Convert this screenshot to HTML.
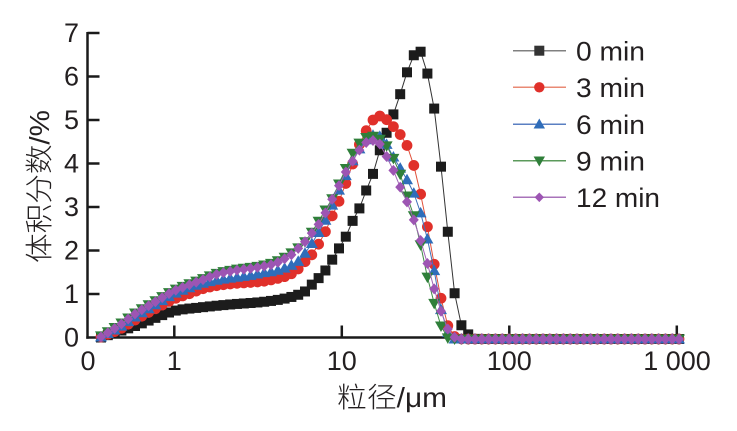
<!DOCTYPE html>
<html><head><meta charset="utf-8"><style>
html,body{margin:0;padding:0;background:#fff;}
svg{display:block;}
text{font-family:"Liberation Sans","Noto Sans CJK SC",sans-serif;fill:#231f20;}
</style></head><body>
<svg id="s" width="737" height="431" viewBox="0 0 737 431" xmlns="http://www.w3.org/2000/svg">
<rect width="737" height="431" fill="#fff"/>
<!-- axes -->
<g stroke="#1a1a1a" stroke-width="2.5" fill="none">
<line x1="87.5" y1="32" x2="87.5" y2="338.7"/>
<line x1="86.3" y1="337.5" x2="682" y2="337.5"/>
<line x1="87.5" y1="33" x2="99.5" y2="33"/>
<line x1="87.5" y1="76.5" x2="99.5" y2="76.5"/>
<line x1="87.5" y1="120" x2="99.5" y2="120"/>
<line x1="87.5" y1="163.5" x2="99.5" y2="163.5"/>
<line x1="87.5" y1="207" x2="99.5" y2="207"/>
<line x1="87.5" y1="250.5" x2="99.5" y2="250.5"/>
<line x1="87.5" y1="294" x2="99.5" y2="294"/>
<line x1="174.3" y1="337.5" x2="174.3" y2="325.5"/>
<line x1="341.8" y1="337.5" x2="341.8" y2="325.5"/>
<line x1="509.3" y1="337.5" x2="509.3" y2="325.5"/>
<line x1="676.8" y1="337.5" x2="676.8" y2="325.5"/>
</g>
<g id="plot"></g>
<g font-size="27" text-anchor="end">
<text x="79" y="42">7</text>
<text x="79" y="85.5">6</text>
<text x="79" y="129">5</text>
<text x="79" y="172.5">4</text>
<text x="79" y="216">3</text>
<text x="79" y="259.5">2</text>
<text x="79" y="303">1</text>
<text x="79" y="346.5">0</text>
</g>
<g font-size="27" text-anchor="middle">
<text x="88" y="370">0</text>
<text x="174.3" y="370">1</text>
<text x="341.8" y="370">10</text>
<text x="509.3" y="370">100</text>
<text x="677" y="370">1 000</text>
</g>
<text x="337" y="407" font-size="28" textLength="110" lengthAdjust="spacingAndGlyphs" style="font-weight:300">粒径/μm</text>
<text transform="translate(49,186.5) rotate(-90)" font-size="28" text-anchor="middle" textLength="153" lengthAdjust="spacingAndGlyphs" style="font-weight:300">体积分数/%</text>
<!-- legend -->
<g stroke-width="1.5">
<line x1="513" y1="50.7" x2="566" y2="50.7" stroke="#808080"/>
<line x1="513" y1="87.3" x2="566" y2="87.3" stroke="#e98a74"/>
<line x1="513" y1="124.3" x2="566" y2="124.3" stroke="#5a7fc2"/>
<line x1="513" y1="160.7" x2="566" y2="160.7" stroke="#5b9a5b"/>
<line x1="513" y1="197.3" x2="566" y2="197.3" stroke="#a873ba"/>
</g>
<rect x="534.3" y="45.7" width="10" height="10" fill="#333"/>
<circle cx="539.3" cy="87.3" r="5.2" fill="#e0302a"/>
<polygon points="539.3,118.5 545,128.5 533.6,128.5" fill="#2f6dba"/>
<polygon points="539.3,166.5 545,156.5 533.6,156.5" fill="#2f7f3a"/>
<polygon points="539.3,192.5 544,197.3 539.3,202.1 534.6,197.3" fill="#9d55b3"/>
<g font-size="27">
<text x="576" y="60.5" textLength="69" lengthAdjust="spacingAndGlyphs">0 min</text>
<text x="576" y="97" textLength="69" lengthAdjust="spacingAndGlyphs">3 min</text>
<text x="576" y="134" textLength="69" lengthAdjust="spacingAndGlyphs">6 min</text>
<text x="576" y="170.5" textLength="69" lengthAdjust="spacingAndGlyphs">9 min</text>
<text x="576" y="207" textLength="84" lengthAdjust="spacingAndGlyphs">12 min</text>
</g>
</svg>
<script>
(function(){
function mono(pts){
 var n=pts.length,xs=[],ys=[],d=[],m=[],i;
 for(i=0;i<n;i++){xs.push(pts[i][0]);ys.push(pts[i][1]);}
 for(i=0;i<n-1;i++)d.push((ys[i+1]-ys[i])/(xs[i+1]-xs[i]));
 m[0]=d[0];m[n-1]=d[n-2];
 for(i=1;i<n-1;i++){m[i]=(d[i-1]*d[i]<=0)?0:(d[i-1]+d[i])/2;}
 for(i=0;i<n-1;i++){
  if(d[i]===0){m[i]=0;m[i+1]=0;continue;}
  var a=m[i]/d[i],b=m[i+1]/d[i],s=a*a+b*b;
  if(s>9){var t=3/Math.sqrt(s);m[i]=t*a*d[i];m[i+1]=t*b*d[i];}
 }
 return function(x){
  if(x<=xs[0])return ys[0]; if(x>=xs[n-1])return ys[n-1];
  var k=0; while(x>xs[k+1])k++;
  var h=xs[k+1]-xs[k],t=(x-xs[k])/h,t2=t*t,t3=t2*t;
  return (2*t3-3*t2+1)*ys[k]+(t3-2*t2+t)*h*m[k]+(-2*t3+3*t2)*ys[k+1]+(t3-t2)*h*m[k+1];
 };
}
var Z=339;
var series=[
 {c:"#1c1c1c",l:"#333",sh:"sq",p:[[101,337.5],[120,331],[135,326],[155,318],[174,311],[200,307.5],[230,304.5],[262,302],[280,299.5],[293,296.5],[300,294],[307,290],[313,283.3],[320,276.7],[327,268.3],[333,258.3],[340,246.7],[347,234.3],[353,220],[361,205],[367,188.3],[374,171],[379,152.7],[387,131.7],[394,112.7],[401,91.7],[407,72.3],[414,55],[422,51.7],[427,71.7],[435,114],[442,176],[449,243],[455,296],[462,327],[469,335],[476,Z],[682,Z]]},
 {c:"#e0302a",l:"#e0503a",sh:"ci",p:[[100,337.5],[120,329],[135,320],[155,309],[174,299],[190,293.5],[202,289],[218,285.5],[235,283.5],[250,282.5],[262,281.5],[275,279],[285,276.5],[290,274.5],[297,270],[305,261.7],[313,253.3],[320,241.7],[327,228.3],[333,214],[341,196.7],[347,180],[354,160],[360,143],[367,129.3],[373,120],[380,116],[387,120],[394,127.3],[401.7,136.7],[409,150],[415,170],[421.7,199.3],[429,235],[436,274],[443,307],[449,329],[456,337.5],[463,Z],[682,Z]]},
 {c:"#2f6dba",l:"#3f70b8",sh:"up",p:[[100,337.5],[120,327],[135,317],[155,305],[174,294],[190,287.5],[202,283.5],[218,280],[235,277.5],[250,275.5],[262,273],[275,271],[285,268],[293,264.5],[298,261.5],[305,253.3],[313,241.7],[320,230],[327,217],[333,203.3],[340,188],[347,173],[353,160],[360,148],[367,139],[375,135],[382,138],[388,146.7],[395,160],[402,171],[408,181.7],[415,196],[421.7,216.7],[429,246],[436,280],[441.7,313],[448,333],[455,Z],[682,Z]]},
 {c:"#2f7f3a",l:"#3f8a45",sh:"dn",p:[[100,336.5],[120,324],[135,313],[155,301],[174,290],[190,283.5],[202,279],[218,273],[235,269.5],[250,267.5],[262,265.5],[275,262],[285,257],[292,252.5],[298,248],[305,241.7],[312,232],[318.3,221.7],[326,209],[333.3,196.7],[340,181.7],[346,168],[351.7,155],[357,146],[363,140],[370,136],[376,137],[382,141],[388.3,148.3],[395,162],[401.7,178.3],[406.7,195],[415,220],[421.7,250],[427.3,276.7],[433.3,300],[440,323.3],[446.7,337],[453,Z],[682,Z]]},
 {c:"#9d55b3",l:"#a065b5",sh:"di",p:[[100,337.5],[120,325],[135,314],[155,302],[174,291],[190,284.5],[202,280],[218,274],[235,270.5],[250,268.5],[262,266.5],[275,263.5],[285,258.5],[291.7,254.5],[298.3,248.3],[305,241.7],[311.7,233.3],[319.3,223.3],[326,211.7],[332.7,198.3],[339.3,185],[346,171.7],[353.3,160],[360.7,148.3],[368,141.5],[375,140.5],[381.7,146.7],[386.7,156.7],[394,171.7],[400.7,188.3],[408.3,205],[415,223.3],[421.7,244],[428.3,266.7],[435,291.7],[441.7,313.3],[448.3,330],[455,337.5],[462,Z],[682,Z]]}
];
var NS="http://www.w3.org/2000/svg",g=document.getElementById("plot");
function el(n,a){var e=document.createElementNS(NS,n);for(var k in a)e.setAttribute(k,a[k]);g.appendChild(e);return e;}
series.forEach(function(s){
 var f=mono(s.p),pts=[];
 for(var k=0;k<=85;k++){var x=101+6.8*k;pts.push([x,f(x)]);}
 el("polyline",{points:pts.map(function(p){return p[0].toFixed(1)+","+p[1].toFixed(1);}).join(" "),fill:"none",stroke:s.l,"stroke-width":"1"});
 pts.forEach(function(p){
  var x=p[0],y=p[1];
  if(s.sh=="sq")el("rect",{x:x-5,y:y-5,width:10,height:10,fill:s.c});
  else if(s.sh=="ci")el("circle",{cx:x,cy:y,r:5.4,fill:s.c});
  else if(s.sh=="up")el("polygon",{points:x+","+(y-6)+" "+(x+6)+","+(y+4.5)+" "+(x-6)+","+(y+4.5),fill:s.c});
  else if(s.sh=="dn")el("polygon",{points:x+","+(y+6)+" "+(x+6)+","+(y-4.5)+" "+(x-6)+","+(y-4.5),fill:s.c});
  else el("polygon",{points:x+","+(y-5.5)+" "+(x+5)+","+y+" "+x+","+(y+5.5)+" "+(x-5)+","+y,fill:s.c});
 });
});
})();
</script>
</body></html>
